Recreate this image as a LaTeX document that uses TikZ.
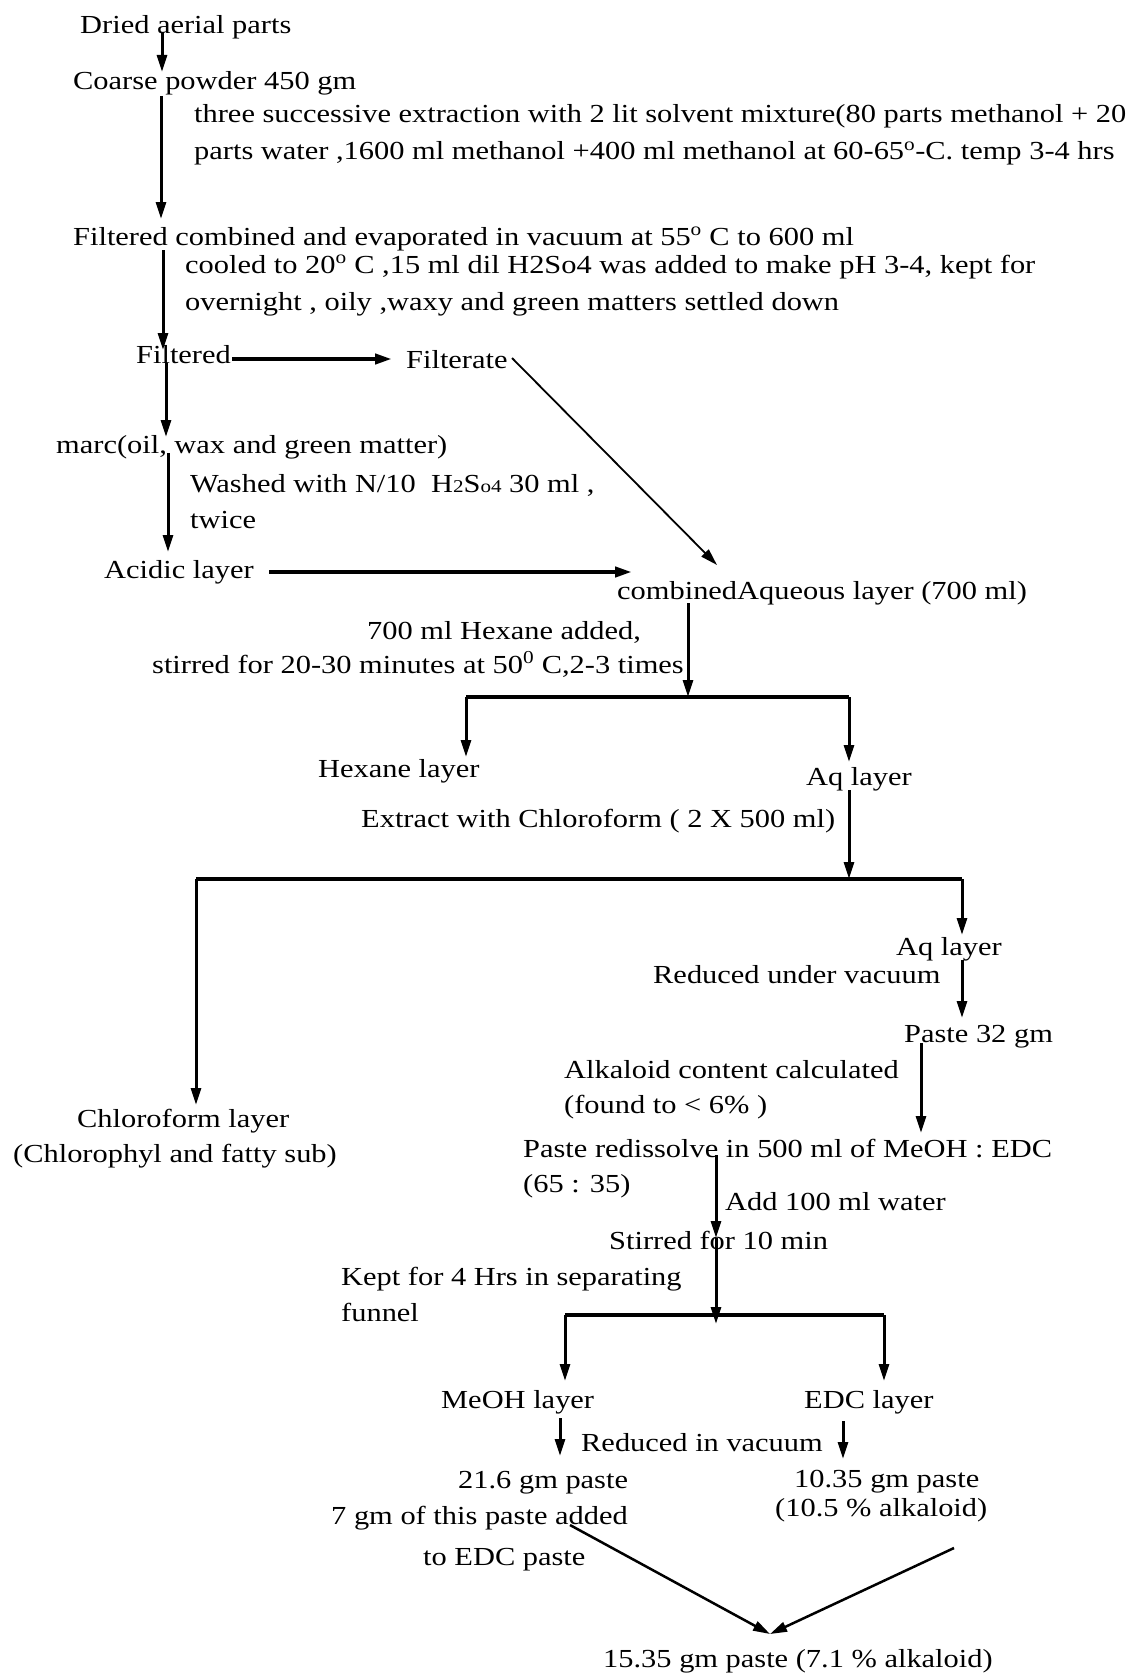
\documentclass[tikz,border=0pt]{standalone}
\usepackage{fontspec}
\setmainfont{Liberation Serif}[FakeStretch=1.17]
\usetikzlibrary{arrows.meta}
\newcommand{\sm}[1]{{\fontsize{18}{18}\selectfont #1}}

\begin{document}
\begin{tikzpicture}[x=1pt,y=-1pt,>={Triangle[length=17pt,width=10pt]},
  lbl/.style={anchor=base west,inner sep=0pt,font=\fontsize{26}{37}\selectfont},
  flow/.style={->,line width=3pt},
  bar/.style={line width=3.5pt}]
  \useasboundingbox (0,0) rectangle (1133,1675);
  % texts
  \node[lbl] (dried) at (80,34) {Dried aerial parts};
  \node[lbl] (coarse) at (73,90) {Coarse powder 450 gm};
  \node[lbl] (extrA) at (194,123) {three successive extraction with 2 lit solvent mixture(80 parts methanol + 20};
  \node[lbl] (extrB) at (194,160) {parts water ,1600 ml methanol +400 ml methanol at 60-65\textsuperscript{o}-C. temp 3-4 hrs};
  \node[lbl] (evap) at (73,245) {Filtered combined and evaporated in vacuum at 55\textsuperscript{o} C to 600 ml};
  \node[lbl] (coolA) at (185,273) {cooled to 20\textsuperscript{o} C ,15 ml dil H2So4 was added to make pH 3-4, kept for};
  \node[lbl] (coolB) at (185,310) {overnight , oily ,waxy and green matters settled down};
  \node[lbl] (filt) at (136,363) {Filtered};
  \node[lbl] (filtrate) at (406,368) {Filterate};
  \node[lbl] (marc) at (56,453) {marc(oil, wax and green matter)};
  \node[lbl] (washA) at (190,492) {Washed with N/10\ \ H\sm{2}S\sm{o4} 30 ml ,};
  \node[lbl] (washB) at (190,528) {twice};
  \node[lbl] (acidic) at (104,578) {Acidic layer};
  \node[lbl] (aqcomb) at (617,599) {combinedAqueous layer (700 ml)};
  \node[lbl] (hexA) at (367,639) {700 ml Hexane added,};
  \node[lbl] (hexB) at (152,673) {stirred for 20-30 minutes at 50\textsuperscript{0} C,2-3 times};
  \node[lbl] (hexl) at (318,777) {Hexane layer};
  \node[lbl] (aq1) at (806,785) {Aq layer};
  \node[lbl] (chlext) at (361,827) {Extract with Chloroform ( 2 X 500 ml)};
  \node[lbl] (aq2) at (896,955) {Aq layer};
  \node[lbl] (redvac) at (653,983) {Reduced under vacuum};
  \node[lbl] (paste) at (904,1042) {Paste 32 gm};
  \node[lbl] (alkA) at (564,1078) {Alkaloid content calculated};
  \node[lbl] (alkB) at (564,1113) {(found to < 6\% )};
  \node[lbl] (chlA) at (77,1127) {Chloroform layer};
  \node[lbl] (chlB) at (13,1162) {(Chlorophyl and fatty sub)};
  \node[lbl] (redisA) at (523,1157) {Paste redissolve in 500 ml of MeOH : EDC};
  \node[lbl] (redisB) at (523,1192) {(65 : 35)};
  \node[lbl] (water) at (725,1210) {Add 100 ml water};
  \node[lbl] (stir) at (609,1249) {Stirred for 10 min};
  \node[lbl] (keptA) at (341,1285) {Kept for 4 Hrs in separating};
  \node[lbl] (keptB) at (341,1321) {funnel};
  \node[lbl] (meoh) at (441,1408) {MeOH layer};
  \node[lbl] (edc) at (804,1408) {EDC layer};
  \node[lbl] (redin) at (581,1451) {Reduced in vacuum};
  \node[lbl] (meohp) at (458,1488) {21.6 gm paste};
  \node[lbl] (addA) at (331,1524) {7 gm of this paste added};
  \node[lbl] (addB) at (423,1565) {to EDC paste};
  \node[lbl] (edcpA) at (794,1487) {10.35 gm paste};
  \node[lbl] (edcpB) at (775,1516) {(10.5 \% alkaloid)};
  \node[lbl] (final) at (603,1667) {15.35 gm paste (7.1 \% alkaloid)};
  % arrow ends
  \coordinate (a1) at (162,32);   \coordinate (a1e) at (162,72);
  \coordinate (a2) at (161,96);   \coordinate (a2e) at (161,219);
  \coordinate (a3) at (163,250);  \coordinate (a3e) at (163,350);
  \coordinate (f1) at (232,359);  \coordinate (f1e) at (392,359);
  \coordinate (m1) at (166,363);  \coordinate (m1e) at (166,437);
  \coordinate (w1) at (168,453);  \coordinate (w1e) at (168,552);
  \coordinate (c1) at (269,572);  \coordinate (c1e) at (632,572);
  \coordinate (d1) at (512,358);  \coordinate (d1e) at (717,565);
  \coordinate (h1) at (688,603);  \coordinate (sp1) at (688,697);
  \coordinate (sp1l) at (466,697); \coordinate (sp1r) at (849,697);
  \coordinate (x1) at (849,790);  \coordinate (sp2) at (849,879);
  \coordinate (sp2l) at (196,879); \coordinate (sp2r) at (962,879);
  \coordinate (r1) at (962,960);  \coordinate (r1e) at (962,1018);
  \coordinate (p1) at (921,1043); \coordinate (p1e) at (921,1133);
  \coordinate (s1) at (716,1155); \coordinate (s1m) at (716,1238);
  \coordinate (sp3) at (716,1324);
  \coordinate (sp3l) at (565,1315); \coordinate (sp3r) at (884,1315);
  \coordinate (v1) at (560,1418); \coordinate (v1e) at (560,1456);
  \coordinate (v2) at (843,1421); \coordinate (v2e) at (843,1459);
  \coordinate (g1) at (570,1525); \coordinate (g2) at (954,1548);
  \coordinate (g0) at (770,1634);
  % connectors
  \draw[flow] (a1) -- (a1e);
  \draw[flow] (a2) -- (a2e);
  \draw[flow] (a3) -- (a3e);
  \draw[flow,line width=4pt] (f1) -- (f1e);
  \draw[flow] (m1) -- (m1e);
  \draw[flow] (w1) -- (w1e);
  \draw[flow,line width=4pt] (c1) -- (c1e);
  \draw[->,line width=1.8pt] (d1) -- (d1e);
  \draw[flow] (h1) -- (sp1);
  \draw[bar] (sp1l) -- (sp1r);
  \draw[flow] (sp1l) -- ++(0,60);
  \draw[flow] (sp1r) -- ++(0,65);
  \draw[flow] (x1) -- (sp2);
  \draw[bar] (sp2l) -- (sp2r);
  \draw[flow] (sp2l) -- ++(0,226);
  \draw[flow] (sp2r) -- ++(0,56);
  \draw[flow] (r1) -- (r1e);
  \draw[flow] (p1) -- (p1e);
  \draw[flow] (s1) -- (s1m);
  \draw[flow] (s1m) -- (sp3);
  \draw[bar] (sp3l) -- (sp3r);
  \draw[flow] (sp3l) -- ++(0,66);
  \draw[flow] (sp3r) -- ++(0,66);
  \draw[flow] (v1) -- (v1e);
  \draw[flow] (v2) -- (v2e);
  \draw[->,line width=2.5pt] (g1) -- (g0);
  \draw[->,line width=2.5pt] (g2) -- (g0);
\end{tikzpicture}
\end{document}
